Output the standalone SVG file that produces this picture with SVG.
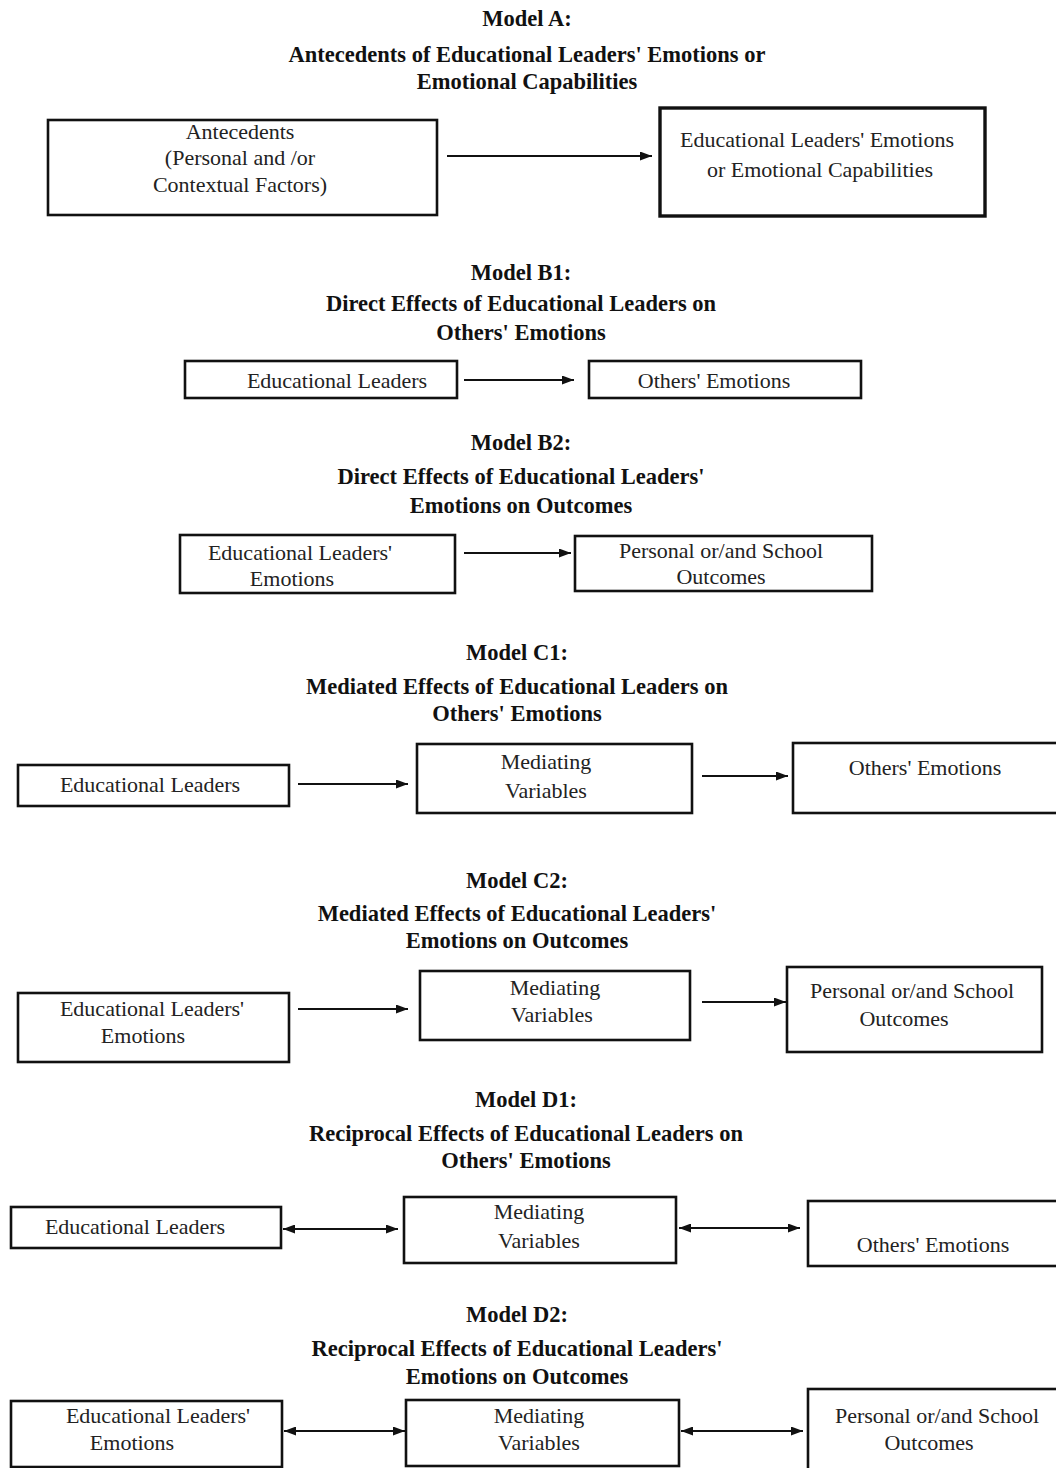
<svg xmlns="http://www.w3.org/2000/svg" width="1056" height="1468" viewBox="0 0 1056 1468">
<style>
.t{font-family:"Liberation Serif","Times New Roman",serif;font-size:22.5px;font-weight:bold;text-anchor:middle;fill:#111}
.n{font-family:"Liberation Serif","Times New Roman",serif;font-size:22px;text-anchor:middle;fill:#222}
.b{fill:#fff;stroke:#111;stroke-width:2.6}
.c{stroke:#111;stroke-width:1.8;fill:none}
</style>
<defs>
<marker id="ah" viewBox="0 0 12 9" refX="12" refY="4.5" markerWidth="12" markerHeight="9" markerUnits="userSpaceOnUse" orient="auto-start-reverse">
<path d="M0,0 L12,4.5 L0,9 Z" fill="#111"/>
</marker>
</defs>
<rect width="1056" height="1468" fill="#fff"/>

<g id="titles">
<text class="t" x="527" y="26">Model A:</text>
<text class="t" x="527" y="62">Antecedents of Educational Leaders' Emotions or</text>
<text class="t" x="527" y="89">Emotional Capabilities</text>
<text class="t" x="521" y="280">Model B1:</text>
<text class="t" x="521" y="311">Direct Effects of Educational Leaders on</text>
<text class="t" x="521" y="340">Others' Emotions</text>
<text class="t" x="521" y="450">Model B2:</text>
<text class="t" x="521" y="484">Direct Effects of Educational Leaders'</text>
<text class="t" x="521" y="513">Emotions on Outcomes</text>
<text class="t" x="517" y="660">Model C1:</text>
<text class="t" x="517" y="694">Mediated Effects of Educational Leaders on</text>
<text class="t" x="517" y="721">Others' Emotions</text>
<text class="t" x="517" y="888">Model C2:</text>
<text class="t" x="517" y="921">Mediated Effects of Educational Leaders'</text>
<text class="t" x="517" y="948">Emotions on Outcomes</text>
<text class="t" x="526" y="1107">Model D1:</text>
<text class="t" x="526" y="1141">Reciprocal Effects of Educational Leaders on</text>
<text class="t" x="526" y="1168">Others' Emotions</text>
<text class="t" x="517" y="1322">Model D2:</text>
<text class="t" x="517" y="1356">Reciprocal Effects of Educational Leaders'</text>
<text class="t" x="517" y="1384">Emotions on Outcomes</text>
</g>

<g id="connectors">
<line class="c" x1="447" y1="156" x2="652" y2="156" marker-end="url(#ah)"/>
<line class="c" x1="464" y1="380" x2="574" y2="380" marker-end="url(#ah)"/>
<line class="c" x1="464" y1="553" x2="571" y2="553" marker-end="url(#ah)"/>
<line class="c" x1="298" y1="784" x2="408" y2="784" marker-end="url(#ah)"/>
<line class="c" x1="702" y1="776" x2="788" y2="776" marker-end="url(#ah)"/>
<line class="c" x1="298" y1="1009" x2="408" y2="1009" marker-end="url(#ah)"/>
<line class="c" x1="702" y1="1002" x2="786" y2="1002" marker-end="url(#ah)"/>
<line class="c" x1="283" y1="1229" x2="398" y2="1229" marker-start="url(#ah)" marker-end="url(#ah)"/>
<line class="c" x1="679" y1="1228" x2="800" y2="1228" marker-start="url(#ah)" marker-end="url(#ah)"/>
<line class="c" x1="284" y1="1431" x2="405" y2="1431" marker-start="url(#ah)" marker-end="url(#ah)"/>
<line class="c" x1="681" y1="1431" x2="803" y2="1431" marker-start="url(#ah)" marker-end="url(#ah)"/>
</g>

<g id="a-antecedents">
<rect class="b" x="48" y="120" width="389" height="95"/>
<text class="n" x="240" y="139">Antecedents</text>
<text class="n" x="240" y="165">(Personal and /or</text>
<text class="n" x="240" y="192">Contextual Factors)</text>
</g>
<g id="a-emotions">
<rect class="b" x="660" y="108" width="325" height="108" style="stroke-width:3.4"/>
<text class="n" x="817" y="147">Educational Leaders' Emotions</text>
<text class="n" x="820" y="177">or Emotional Capabilities</text>
</g>

<g id="b1-leaders">
<rect class="b" x="185" y="361" width="272" height="37"/>
<text class="n" x="337" y="388">Educational Leaders</text>
</g>
<g id="b1-others">
<rect class="b" x="589" y="361" width="272" height="37"/>
<text class="n" x="714" y="388">Others' Emotions</text>
</g>

<g id="b2-emotions">
<rect class="b" x="180" y="535" width="275" height="58"/>
<text class="n" x="300" y="560">Educational Leaders'</text>
<text class="n" x="292" y="586">Emotions</text>
</g>
<g id="b2-outcomes">
<rect class="b" x="575" y="536" width="297" height="55"/>
<text class="n" x="721" y="558">Personal or/and School</text>
<text class="n" x="721" y="584">Outcomes</text>
</g>

<g id="c1-leaders">
<rect class="b" x="18" y="765" width="271" height="41"/>
<text class="n" x="150" y="792">Educational Leaders</text>
</g>
<g id="c1-mediating">
<rect class="b" x="417" y="744" width="275" height="69"/>
<text class="n" x="546" y="769">Mediating</text>
<text class="n" x="546" y="798">Variables</text>
</g>
<g id="c1-others">
<rect class="b" x="793" y="743" width="275" height="70"/>
<text class="n" x="925" y="775">Others' Emotions</text>
</g>

<g id="c2-emotions">
<rect class="b" x="18" y="993" width="271" height="69"/>
<text class="n" x="152" y="1016">Educational Leaders'</text>
<text class="n" x="143" y="1043">Emotions</text>
</g>
<g id="c2-mediating">
<rect class="b" x="420" y="971" width="270" height="69"/>
<text class="n" x="555" y="995">Mediating</text>
<text class="n" x="552" y="1022">Variables</text>
</g>
<g id="c2-outcomes">
<rect class="b" x="787" y="967" width="255" height="85"/>
<text class="n" x="912" y="998">Personal or/and School</text>
<text class="n" x="904" y="1026">Outcomes</text>
</g>

<g id="d1-leaders">
<rect class="b" x="11" y="1207" width="270" height="41"/>
<text class="n" x="135" y="1234">Educational Leaders</text>
</g>
<g id="d1-mediating">
<rect class="b" x="404" y="1197" width="272" height="66"/>
<text class="n" x="539" y="1219">Mediating</text>
<text class="n" x="539" y="1248">Variables</text>
</g>
<g id="d1-others">
<rect class="b" x="808" y="1201" width="260" height="65"/>
<text class="n" x="933" y="1252">Others' Emotions</text>
</g>

<g id="d2-emotions">
<rect class="b" x="11" y="1401" width="271" height="66"/>
<text class="n" x="158" y="1423">Educational Leaders'</text>
<text class="n" x="132" y="1450">Emotions</text>
</g>
<g id="d2-mediating">
<rect class="b" x="406" y="1400" width="273" height="66"/>
<text class="n" x="539" y="1423">Mediating</text>
<text class="n" x="539" y="1450">Variables</text>
</g>
<g id="d2-outcomes">
<rect class="b" x="808" y="1389" width="260" height="85"/>
<text class="n" x="937" y="1423">Personal or/and School</text>
<text class="n" x="929" y="1450">Outcomes</text>
</g>
</svg>
